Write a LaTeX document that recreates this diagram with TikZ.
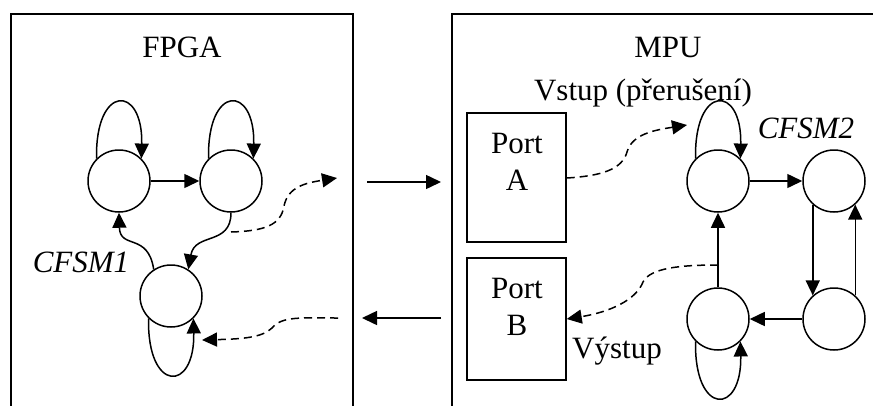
\documentclass[tikz,border=0pt]{standalone}
\usepackage{fontspec}
\setmainfont{Liberation Serif}
\usetikzlibrary{arrows.meta}
\begin{document}
\begin{tikzpicture}[x=1pt,y=-1pt,
  every node/.style={font=\fontsize{31}{36}\selectfont, inner sep=0pt},
  frame/.style={line width=1.5pt},
  state/.style={draw, circle, line width=1.5pt, minimum size=62pt},
  portbox/.style={draw, line width=1.5pt, minimum width=99pt},
  link/.style={line width=1.5pt, -{Triangle[length=15pt,width=14pt]}},
  signal/.style={link, dash pattern=on 8pt off 5pt},
  lbl/.style={anchor=base}]
\useasboundingbox (0,0) rectangle (873,405);

% Enclosures (open towards the page edges)
\draw[frame] (11,410) -- (11,14) -- (353,14) -- (353,410);
\draw[frame] (452,410) -- (452,14) -- (880,14);

% Titles
\node[lbl] (fpga) at (182,57) {FPGA};
\node[lbl] (mpu)  at (668,57) {MPU};
\node[lbl] (vstup) at (643,100) {Vstup (přerušení)};
\node[lbl,anchor=base west] (vystup) at (572,358) {Výstup};
\node[lbl] (cfsma) at (81,272) {\itshape CFSM1};
\node[lbl] (cfsmb) at (806,138) {\itshape CFSM2};

% CFSM1 states
\node[state] (a1) at (119,181) {};
\node[state] (a2) at (231,181) {};
\node[state] (a3) at (171,296) {};

% CFSM2 states
\node[state] (b1) at (718,181) {};
\node[state] (b2) at (834,181) {};
\node[state] (b3) at (834,319) {};
\node[state] (b4) at (718,319) {};

% Ports
\node[portbox, minimum height=129pt] (pa) at (516.5,177.5) {};
\node[portbox, minimum height=122pt] (pb) at (516.5,319) {};
\node[lbl] (pat) at (517,153) {Port};
\node[lbl] (paa) at (517,190) {A};
\node[lbl] (pbt) at (517,298) {Port};
\node[lbl] (pbb) at (517,335) {B};

% CFSM1 transitions
\draw[link] (a1) -- (a2);
\draw[link] (a1.135) .. controls (95,84) and (143,84) .. (a1.45);
\draw[link] (a2.135) .. controls (207,84) and (255,84) .. (a2.45);
\draw[link] (a3.-135) .. controls (147,393) and (195,393) .. (a3.-45);
\draw[link] (a3.123) .. controls (148,232) and (120,250) .. (a1.-90);
\draw[link] (a2.-90) .. controls (231,246) and (195,232) .. (a3.57);

% Interconnect between the two blocks
\coordinate (busai) at (367,182);
\coordinate (busao) at (441,182);
\coordinate (busbi) at (441,318);
\coordinate (busbo) at (362,318);
\draw[link] (busai) -- (busao);
\draw[link] (busbi) -- (busbo);

% Signals leaving / entering CFSM1
\coordinate (outa) at (231,232);
\coordinate (outb) at (337,178);
\coordinate (ina) at (338,318);
\coordinate (inb) at (202,340);
\draw[signal] (outa) .. controls (265,231) and (281,225) .. (284,206)
                     .. controls (288,187) and (305,183) .. (outb);
\draw[signal] (ina) .. controls (300,318) and (282,316) .. (272,328)
                    .. controls (262,338) and (240,339) .. (inb);

% CFSM2 transitions
\draw[link] (b1) -- (b2);
\draw[link] (b2.-132) -- (b3.132);
\draw[link] (b3.48) -- (b2.-48);
\draw[link] (b3) -- (b4);
\draw[link] (b4) -- (b1);
\draw[link] (b1.135) .. controls (694,84) and (742,84) .. (b1.45);
\draw[link] (b4.-135) .. controls (694,416) and (742,416) .. (b4.-45);

% Interrupt input and output signals of CFSM2
\coordinate (tapa) at (718,265);
\coordinate (irq) at (687,125);
\draw[signal] (pa.east |- 0,178) .. controls (600,176) and (622,170) .. (627,152)
                     .. controls (632,134) and (655,130) .. (irq);
\draw[signal] (tapa) .. controls (680,265) and (650,268) .. (643,282)
                     .. controls (636,300) and (610,312) .. (pb.east);
\end{tikzpicture}
\end{document}
